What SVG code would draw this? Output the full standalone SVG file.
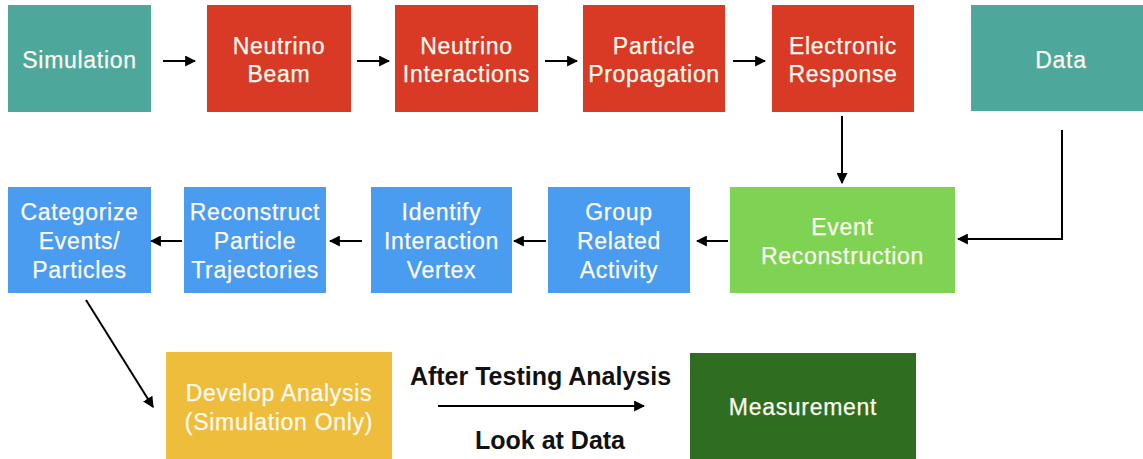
<svg xmlns="http://www.w3.org/2000/svg" width="1143" height="459" viewBox="0 0 1143 459">
<style>
.t{font-family:"Liberation Sans",Arial,Helvetica,sans-serif;font-size:23px;letter-spacing:0.7px;fill:#fdfaf0;stroke:#fdfaf0;stroke-width:0.25;text-anchor:middle}
.b{font-family:"Liberation Sans",Arial,Helvetica,sans-serif;font-size:25px;font-weight:bold;fill:#111;text-anchor:middle}
.c{stroke:#000;stroke-width:2;fill:none;marker-end:url(#ah)}
.teal{fill:#4da89b}.red{fill:#d93a26}.blue{fill:#4a9cf0}.green{fill:#7ed352}.yellow{fill:#efbd3c}.dgreen{fill:#2f6d20}
</style>
<defs>
<marker id="ah" viewBox="0 0 10 10" refX="9" refY="5" markerWidth="5.5" markerHeight="5.5" orient="auto" markerUnits="strokeWidth">
<path d="M0,0 L10,5 L0,10 z" fill="#000"/>
</marker>
</defs>
<rect width="1143" height="459" fill="#fff"/>
<g id="simulation"><rect class="teal" x="8" y="5" width="143" height="107"/><text class="t" x="79.5" y="68">Simulation</text></g>
<g id="neutrino-beam"><rect class="red" x="207" y="5" width="144" height="107"/><text class="t" x="279" y="54">Neutrino</text><text class="t" x="279" y="82">Beam</text></g>
<g id="neutrino-interactions"><rect class="red" x="395" y="5" width="143" height="107"/><text class="t" x="466.5" y="54">Neutrino</text><text class="t" x="466.5" y="82">Interactions</text></g>
<g id="particle-propagation"><rect class="red" x="583" y="5" width="142" height="107"/><text class="t" x="654" y="54">Particle</text><text class="t" x="654" y="82">Propagation</text></g>
<g id="electronic-response"><rect class="red" x="772" y="5" width="142" height="107"/><text class="t" x="843" y="54">Electronic</text><text class="t" x="843" y="82">Response</text></g>
<g id="data"><rect class="teal" x="971" y="5" width="172" height="106"/><text class="t" x="1061" y="68">Data</text></g>
<g id="event-reconstruction"><rect class="green" x="730" y="187" width="225" height="106"/><text class="t" x="842.5" y="235">Event</text><text class="t" x="842.5" y="264">Reconstruction</text></g>
<g id="group-related-activity"><rect class="blue" x="548" y="187" width="142" height="106"/><text class="t" x="619" y="220">Group</text><text class="t" x="619" y="249">Related</text><text class="t" x="619" y="278">Activity</text></g>
<g id="identify-interaction-vertex"><rect class="blue" x="371" y="187" width="141" height="106"/><text class="t" x="441.5" y="220">Identify</text><text class="t" x="441.5" y="249">Interaction</text><text class="t" x="441.5" y="278">Vertex</text></g>
<g id="reconstruct-particle-trajectories"><rect class="blue" x="184" y="187" width="142" height="106"/><text class="t" x="255" y="220">Reconstruct</text><text class="t" x="255" y="249">Particle</text><text class="t" x="255" y="278">Trajectories</text></g>
<g id="categorize"><rect class="blue" x="8" y="187" width="143" height="106"/><text class="t" x="79.5" y="220">Categorize</text><text class="t" x="79.5" y="249">Events/</text><text class="t" x="79.5" y="278">Particles</text></g>
<g id="develop-analysis"><rect class="yellow" x="166" y="352" width="226" height="107"/><text class="t" x="279" y="401">Develop Analysis</text><text class="t" x="279" y="430">(Simulation Only)</text></g>
<g id="measurement"><rect class="dgreen" x="690" y="353" width="226" height="106"/><text class="t" x="803" y="415">Measurement</text></g>
<g id="connectors">
<line class="c" x1="163" y1="61" x2="195" y2="61"/>
<line class="c" x1="357" y1="61" x2="389" y2="61"/>
<line class="c" x1="545" y1="61" x2="577" y2="61"/>
<line class="c" x1="733" y1="61" x2="765" y2="61"/>
<line class="c" x1="842" y1="116" x2="842" y2="183"/>
<polyline class="c" points="1062,130 1062,239 958,239"/>
<line class="c" x1="728" y1="241" x2="697" y2="241"/>
<line class="c" x1="546" y1="241" x2="514" y2="241"/>
<line class="c" x1="362" y1="241" x2="330" y2="241"/>
<line class="c" x1="182" y1="241" x2="151" y2="241"/>
<line class="c" x1="86" y1="300" x2="153" y2="407"/>
<line class="c" x1="438" y1="406" x2="644" y2="406"/>
</g>
<text class="b" x="540.5" y="385">After Testing Analysis</text>
<text class="b" x="550" y="449">Look at Data</text>
</svg>
